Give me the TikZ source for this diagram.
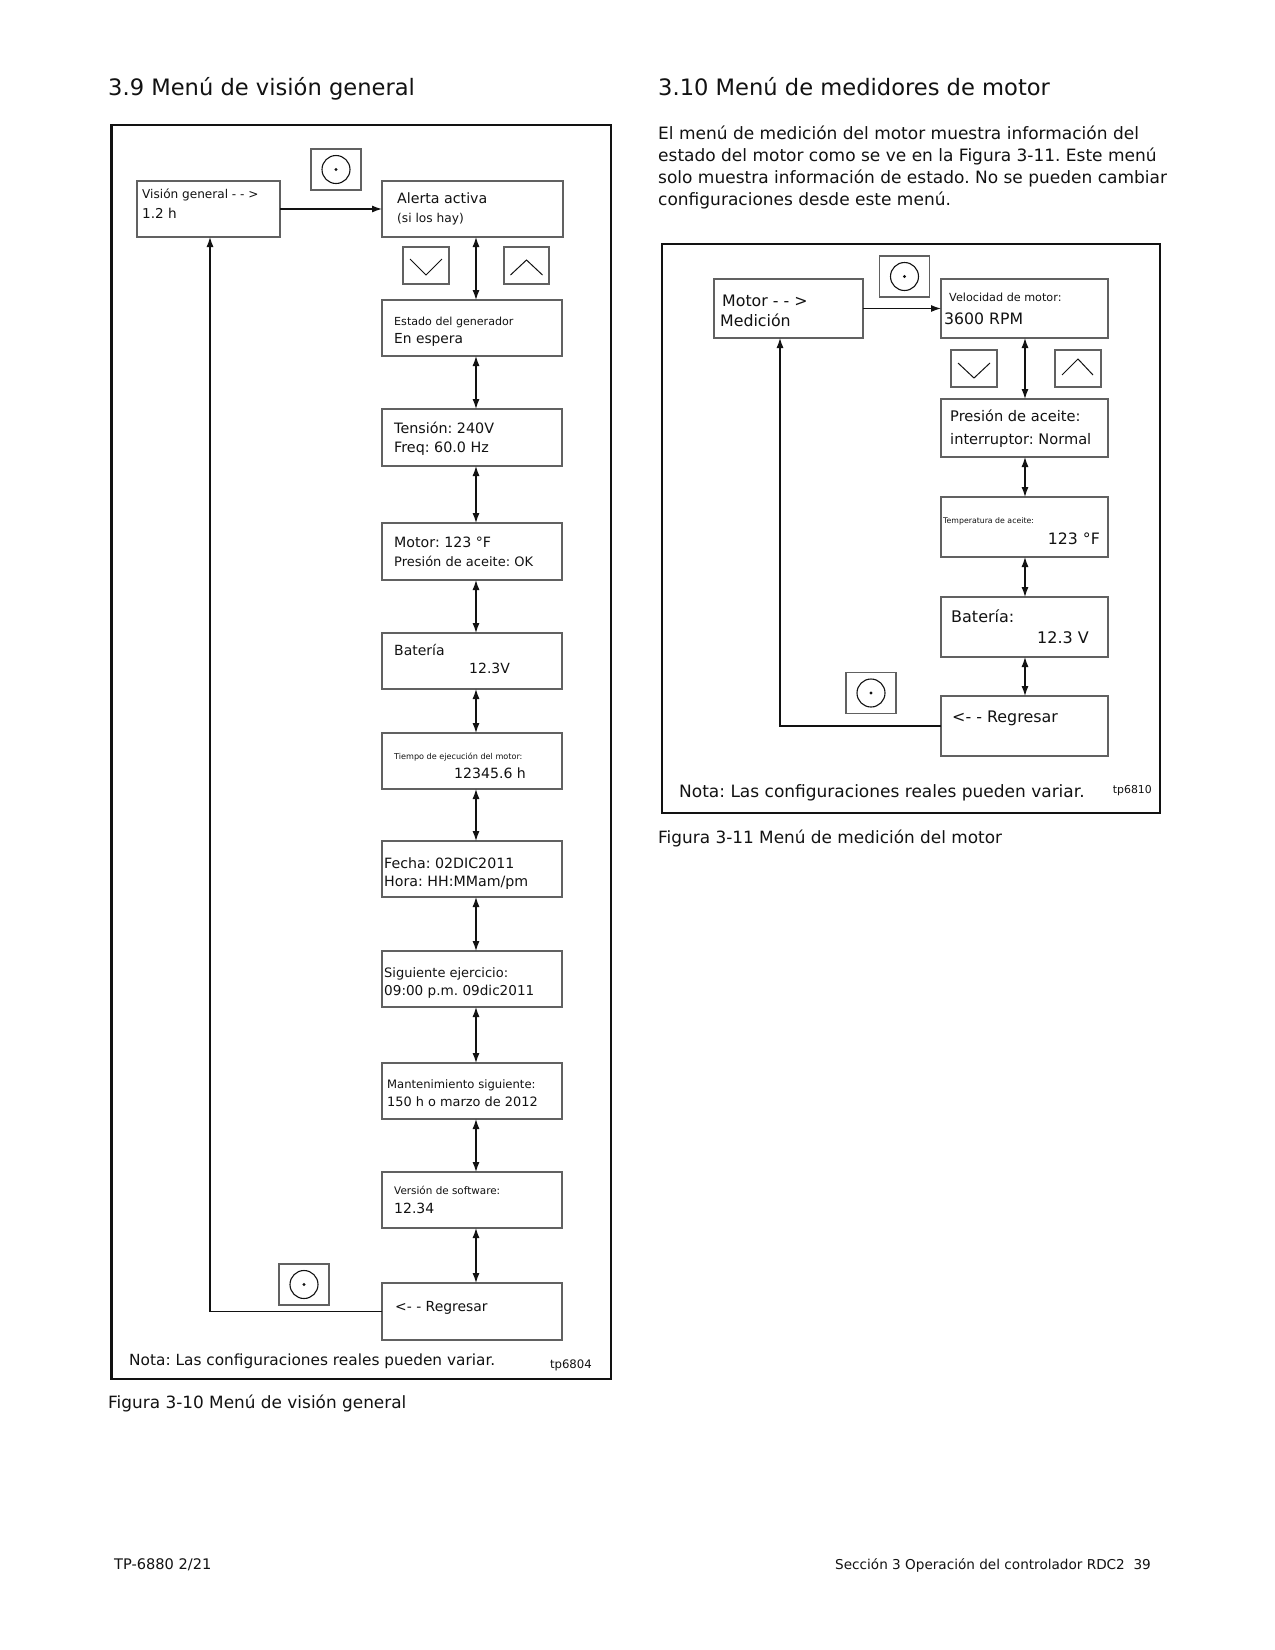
\documentclass[tikz,border=0pt]{standalone}
\usepackage{fontspec}
\setmainfont{DejaVu Sans}
\usetikzlibrary{arrows.meta}
\definecolor{boxgray}{gray}{0.38}
\definecolor{ink}{gray}{0.07}
\frenchspacing
\newcommand\fsz[1]{\fontsize{#1}{#1}\selectfont}
\newcommand\menubox[5]{\node[box,minimum width={#4-#2},minimum height={#5-#3}] (#1) at (#2,#3) {};}
\newcommand\okbtn[3]{\node[box,anchor=center,minimum width=50,minimum height=41] (#1) at (#2,#3) {};
  \draw[ink,line width=1.1pt] (#1.center) circle[radius=14];
  \fill[ink] (#1.center) circle[radius=1.7];}
\begin{document}
\begin{tikzpicture}[x=1pt,y=-1pt,
  box/.style={draw=boxgray,line width=1.4pt,inner sep=0pt,outer sep=0pt,anchor=north west},
  frm/.style={draw=ink,line width=2.6pt},
  txt/.style={inner sep=0pt,anchor=base west,text=ink},
  txtr/.style={inner sep=0pt,anchor=base east,text=ink},
  link/.style={draw=ink,line width=1.2pt},
  tip/.style={-{Latex[length=10pt,width=7pt]}},
  dtip/.style={{Latex[length=10pt,width=7pt]}-{Latex[length=10pt,width=7pt]}},
  chev/.style={draw=ink,line width=1pt}]
\useasboundingbox[fill=white] (0,0) rectangle (1275,1650);

% ---------- headings and page text ----------
\node[txt,font=\fsz{22.6}] (h1) at (108,95) {3.9 Menú de visión general};
\node[txt,font=\fsz{22.6}] (h2) at (658,95) {3.10 Menú de medidores de motor};
\node[txt,font=\fsz{17}] (p1) at (658,139) {El menú de medición del motor muestra información del};
\node[txt,font=\fsz{17}] (p2) at (658,161) {estado del motor como se ve en la Figura 3-11. Este menú};
\node[txt,font=\fsz{17}] (p3) at (658,183) {solo muestra información de estado. No se pueden cambiar};
\node[txt,font=\fsz{17}] (p4) at (658,205) {configuraciones desde este menú.};
\node[txt,font=\fsz{14.6}] (ft1) at (114,1569) {TP-6880 2/21};
\node[txtr,font=\fsz{13.6}] (ft2) at (1151,1569) {Sección 3 Operación del controlador RDC2\ \ 39};

% ---------- left figure ----------
\draw[frm] (111.5,125) rectangle (611,1379);
\menubox{visL}{137}{181}{280}{237}
\menubox{alert}{382}{181}{563}{237}
\menubox{estado}{382}{300}{562}{356}
\menubox{tension}{382}{409}{562}{466}
\menubox{motorL}{382}{523}{562}{580}
\menubox{batL}{382}{633}{562}{689}
\menubox{tiempo}{382}{733}{562}{789}
\menubox{fecha}{382}{841}{562}{897}
\menubox{sig}{382}{951}{562}{1007}
\menubox{mant}{382}{1063}{562}{1119}
\menubox{vers}{382}{1172}{562}{1228}
\menubox{regL}{382}{1283}{562}{1340}

\okbtn{okL1}{336}{169.5}
\okbtn{okL2}{304}{1284.5}
\menubox{dnL}{403}{247}{449}{284}
\menubox{upL}{504}{247}{549}{284}
\draw[chev] ([shift={(-16,-6.5)}]dnL.center) -- ([shift={(0,9.5)}]dnL.center) -- ([shift={(16,-6.5)}]dnL.center);
\draw[chev] ([shift={(-16,9.5)}]upL.center) -- ([shift={(0,-5.5)}]upL.center) -- ([shift={(16,9.5)}]upL.center);

\coordinate (axL) at (476,0);
\draw[link,tip] (visL.east) -- (alert.west);
\foreach \a/\b in {alert/estado,estado/tension,tension/motorL,motorL/batL,batL/tiempo,tiempo/fecha,fecha/sig,sig/mant,mant/vers,vers/regL}
  \draw[link,dtip] (\a.south -| axL) -- (\b.north -| axL);
\coordinate (retL) at (210,0);
\draw[link,tip] (regL.west) -| (retL |- visL.south);

\node[txt,font=\fsz{12.1}] (tv1) at (142,198) {Visión general - - >};
\node[txt,font=\fsz{13.6}] (tv2) at (142,218) {1.2 h};
\node[txt,font=\fsz{14.2}] (ta1) at (397,203) {Alerta activa};
\node[txt,font=\fsz{12.2}] (ta2) at (397,222) {(si los hay)};
\node[txt,font=\fsz{11.1}] (te1) at (394,325) {Estado del generador};
\node[txt,font=\fsz{13.8}] (te2) at (394,343) {En espera};
\node[txt,font=\fsz{14.3}] (tt1) at (394,433) {Tensión: 240V};
\node[txt,font=\fsz{14.3}] (tt2) at (394,452) {Freq: 60.0 Hz};
\node[txt,font=\fsz{14.2}] (tm1) at (394,547) {Motor: 123 °F};
\node[txt,font=\fsz{13}] (tm2) at (394,566) {Presión de aceite: OK};
\node[txt,font=\fsz{14}] (tb1) at (394,655) {Batería};
\node[txt,font=\fsz{14}] (tb2) at (469,673) {12.3V};
\node[txt,font=\fsz{8.1}] (tq1) at (394,759) {Tiempo de ejecución del motor:};
\node[txt,font=\fsz{14.1}] (tq2) at (454,778) {12345.6 h};
\node[txt,font=\fsz{14.2}] (tf1) at (384,868) {Fecha: 02DIC2011};
\node[txt,font=\fsz{14.2}] (tf2) at (384,886) {Hora: HH:MMam/pm};
\node[txt,font=\fsz{13}] (ts1) at (384,977) {Siguiente ejercicio:};
\node[txt,font=\fsz{13.6}] (ts2) at (384,995) {09:00 p.m. 09dic2011};
\node[txt,font=\fsz{11.6}] (tn1) at (387,1088) {Mantenimiento siguiente:};
\node[txt,font=\fsz{12.9}] (tn2) at (387,1106) {150 h o marzo de 2012};
\node[txt,font=\fsz{10.4}] (tw1) at (394,1194) {Versión de software:};
\node[txt,font=\fsz{14}] (tw2) at (394,1213) {12.34};
\node[txt,font=\fsz{13.9}] (tr1) at (395,1311) {<- - Regresar};
\node[txt,font=\fsz{15.35}] (nL) at (129,1365) {Nota: Las configuraciones reales pueden variar.};
\node[txtr,font=\fsz{11.7}] (tpL) at (592,1368) {tp6804};
\node[txt,font=\fsz{16.9}] (capL) at (108,1408) {Figura 3-10 Menú de visión general};

% ---------- right figure ----------
\draw[frm] (662,244) rectangle (1160,813);
\menubox{motR}{714}{279}{863}{338}
\menubox{vel}{941}{279}{1108}{338}
\menubox{pres}{941}{399}{1108}{457}
\menubox{temp}{941}{497}{1108}{557}
\menubox{batR}{941}{597}{1108}{657}
\menubox{regR}{941}{696}{1108}{756}
\okbtn{okR1}{904.5}{276.5}
\okbtn{okR2}{871}{693}
\menubox{dnR}{951}{350}{997}{387}
\menubox{upR}{1055}{350}{1101}{387}
\draw[chev] ([shift={(-16,-5.5)}]dnR.center) -- ([shift={(0,9.5)}]dnR.center) -- ([shift={(16,-5.5)}]dnR.center);
\draw[chev] ([shift={(-16,6.5)}]upR.center) -- ([shift={(0,-9.5)}]upR.center) -- ([shift={(15,6.5)}]upR.center);

\coordinate (axR) at (1025,0);
\draw[link,tip] (motR.east) -- (vel.west);
\foreach \a/\b in {vel/pres,pres/temp,temp/batR,batR/regR}
  \draw[link,dtip] (\a.south -| axR) -- (\b.north -| axR);
\coordinate (retR) at (780,0);
\draw[link,tip] (regR.west) -| (retR |- motR.south);

\node[txt,font=\fsz{15.8}] (rm1) at (722,306) {Motor - - >};
\node[txt,font=\fsz{15.8}] (rm2) at (720,326) {Medición};
\node[txt,font=\fsz{11.2}] (rv1) at (949,301) {Velocidad de motor:};
\node[txt,font=\fsz{15.7}] (rv2) at (944,324) {3600 RPM};
\node[txt,font=\fsz{14.6}] (rp1) at (950,421) {Presión de aceite:};
\node[txt,font=\fsz{14.6}] (rp2) at (950,444) {interruptor: Normal};
\node[txt,font=\fsz{7.8}] (rt1) at (943,523) {Temperatura de aceite:};
\node[txtr,font=\fsz{15.7}] (rt2) at (1100,544) {123 °F};
\node[txt,font=\fsz{16}] (rb1) at (951,622) {Batería:};
\node[txtr,font=\fsz{16}] (rb2) at (1089,643) {12.3 V};
\node[txt,font=\fsz{15.9}] (rr1) at (952,722) {<- - Regresar};
\node[txt,font=\fsz{17}] (nR) at (679,797) {Nota: Las configuraciones reales pueden variar.};
\node[txtr,font=\fsz{10.9}] (tpR) at (1152,793) {tp6810};
\node[txt,font=\fsz{16.9}] (capR) at (658,843) {Figura 3-11 Menú de medición del motor};
\end{tikzpicture}
\end{document}
